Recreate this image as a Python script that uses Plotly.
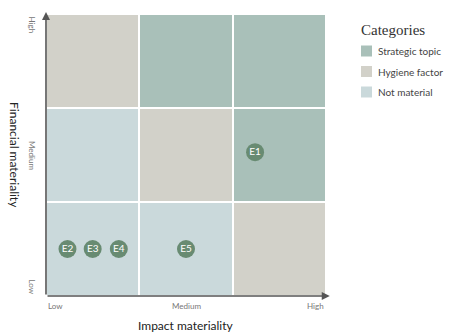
import plotly.graph_objects as go

# Materiality matrix: rows = financial materiality (Low, Medium, High), cols = impact materiality
levels = ["Low", "Medium", "High"]
categories = ["Strategic topic", "Hygiene factor", "Not material"]
category_colors = ["#a9c0b9", "#d2d1c9", "#cad9db"]

# category index per cell, row 0 = Low financial materiality
cell_category = [
    [2, 2, 1],  # Low
    [2, 1, 0],  # Medium
    [1, 0, 0],  # High
]

# topics placed on the matrix
topic_labels = ["E1", "E2", "E3", "E4", "E5"]
topic_impact = [2.24, 0.23, 0.50, 0.78, 1.50]
topic_financial = [1.53, 0.50, 0.50, 0.50, 0.50]

SANS = "Lato, 'Open Sans', sans-serif"
SERIF = "'Liberation Serif', 'DejaVu Serif', serif"

fig = go.Figure()

# discrete colorscale for the three categories
cs = []
n = len(categories)
for i, c in enumerate(category_colors):
    cs.append([i / n, c])
    cs.append([(i + 1) / n, c])

fig.add_trace(go.Heatmap(
    z=cell_category,
    x=[0.5, 1.5, 2.5],
    y=[0.5, 1.5, 2.5],
    colorscale=cs,
    zmin=-0.5,
    zmax=n - 0.5,
    showscale=False,
    xgap=2,
    ygap=2,
    hoverinfo="skip",
))

fig.add_trace(go.Scatter(
    x=topic_impact, y=topic_financial, mode="markers+text",
    text=topic_labels, textposition="middle center",
    textfont=dict(family=SANS, size=10, color="white"),
    marker=dict(size=18, color="#688b72"),
    showlegend=False, hoverinfo="skip",
))

annotations = []
shapes = []

# axis arrows
annotations.append(dict(x=0, y=3.02, ax=0, ay=0, xref="x", yref="y", axref="x", ayref="y",
                        text="", showarrow=True, arrowhead=2, arrowsize=1, arrowwidth=1.6,
                        arrowcolor="#555555"))
annotations.append(dict(x=3.04, y=0, ax=0, ay=0, xref="x", yref="y", axref="x", ayref="y",
                        text="", showarrow=True, arrowhead=2, arrowsize=1, arrowwidth=1.6,
                        arrowcolor="#555555"))

tick_font = dict(family=SANS, size=8, color="#777777")
# x tick labels
for i, (lab, anchor) in enumerate(zip(levels, ["left", "center", "right"])):
    annotations.append(dict(x=[0, 1.5, 3][i], y=0, xref="x", yref="y", text=lab,
                            showarrow=False, xanchor=anchor, yanchor="top", yshift=-3,
                            font=tick_font))
# y tick labels (rotated clockwise)
for i, (lab, anchor) in enumerate(zip(levels, ["bottom", "middle", "top"])):
    annotations.append(dict(x=0, y=[0, 1.5, 3][i], xref="x", yref="y", text=lab,
                            showarrow=False, xanchor="right", yanchor=anchor, xshift=-7,
                            textangle=90, font=tick_font))

annotations.append(dict(x=0.5, y=-0.106, xref="paper", yref="paper", text="Impact materiality",
                        showarrow=False, xanchor="center", yanchor="middle",
                        font=dict(family=SANS, size=12, color="#222222")))
annotations.append(dict(x=-0.111, y=0.5, xref="paper", yref="paper", text="Financial materiality",
                        showarrow=False, xanchor="center", yanchor="middle", textangle=90,
                        font=dict(family=SANS, size=12, color="#222222")))

# category key at the right of the matrix (paper coordinates)
PW, PH, L, T = 280.0, 282.0, 46.0, 14.0


def px_x(p):
    return (p - L) / PW


def px_y(p):
    return (T + PH - p) / PH


annotations.append(dict(x=px_x(359), y=px_y(30), xref="paper", yref="paper", text="Categories",
                        showarrow=False, xanchor="left", yanchor="middle",
                        font=dict(family=SERIF, size=15, color="#333333")))
for k, (name, color) in enumerate(zip(categories, category_colors)):
    cy = 51 + k * 20.5
    shapes.append(dict(type="rect", xref="paper", yref="paper",
                       x0=px_x(361), x1=px_x(372), y0=px_y(cy + 5.5), y1=px_y(cy - 5.5),
                       fillcolor=color, line=dict(width=0)))
    annotations.append(dict(x=px_x(376), y=px_y(cy), xref="paper", yref="paper", text=name,
                            showarrow=False, xanchor="left", yanchor="middle",
                            font=dict(family=SANS, size=10, color="#444444")))

fig.update_layout(
    width=458, height=336,
    margin=dict(l=46, r=132, t=14, b=40, autoexpand=False),
    paper_bgcolor="white", plot_bgcolor="white",
    showlegend=False,
    xaxis=dict(range=[0, 3], showgrid=False, zeroline=False, showticklabels=False,
               fixedrange=True),
    yaxis=dict(range=[0, 3], showgrid=False, zeroline=False, showticklabels=False,
               fixedrange=True),
    annotations=annotations,
    shapes=shapes,
)

fig.write_html("out.html")
